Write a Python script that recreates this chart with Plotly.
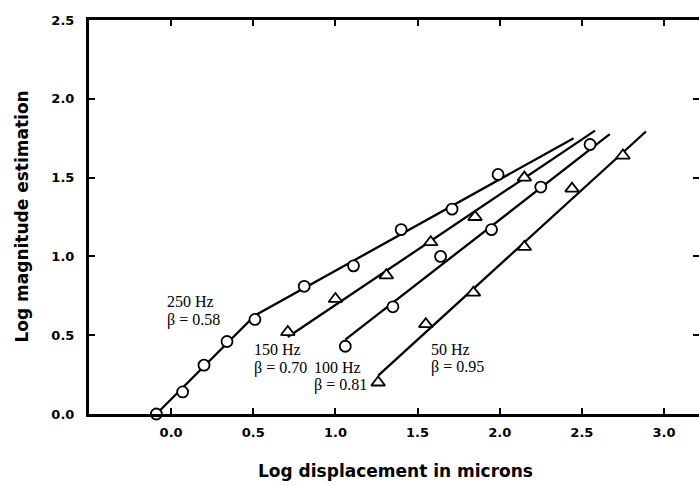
import plotly.graph_objects as go

# Log displacement (microns) and log magnitude estimation for each vibration frequency
x_250 = [-0.09, 0.07, 0.20, 0.34, 0.51, 0.81, 1.11, 1.40, 1.71, 1.99]
y_250 = [0.00, 0.14, 0.31, 0.46, 0.60, 0.81, 0.94, 1.17, 1.30, 1.52]

x_150 = [0.71, 1.00, 1.31, 1.58, 1.85, 2.15]
y_150 = [0.52, 0.73, 0.88, 1.09, 1.25, 1.50]

x_100 = [1.06, 1.35, 1.64, 1.95, 2.25, 2.55]
y_100 = [0.43, 0.68, 1.00, 1.17, 1.44, 1.71]

x_50 = [1.26, 1.55, 1.84, 2.15, 2.44, 2.75]
y_50 = [0.20, 0.57, 0.77, 1.06, 1.43, 1.64]

# Power-function fits: slope (beta), intercept and x extent of each fitted line
freqs = ["250 Hz", "150 Hz", "100 Hz", "50 Hz"]
betas = [0.58, 0.70, 0.81, 0.95]
intercepts = [0.329, -0.008, -0.387, -0.953]
fit_start = [0.51, 0.71, 1.06, 1.26]
fit_end = [2.45, 2.58, 2.67, 2.89]

# Steeper low-level segment of the 250 Hz function
low_slope_250 = 1.04
low_intercept_250 = 0.094
low_start_250 = -0.09

x_ticks = [0.0, 0.5, 1.0, 1.5, 2.0, 2.5, 3.0]
x_tick_text = ["0.0", "0.5", "1.0", "1.5", "2.0", "2.5", "3.0"]
y_ticks = [0.0, 0.5, 1.0, 1.5, 2.0, 2.5]
y_tick_text = ["0.0", "0.5", "1.0", "1.5", "2.0", "2.5"]

X_RANGE = [-0.5, 3.213]
Y_RANGE = [0.0, 2.5]

fig = go.Figure()


def fit_line(i):
    xs = [fit_start[i], fit_end[i]]
    ys = [intercepts[i] + betas[i] * v for v in xs]
    return xs, ys


# fitted lines
for i in range(len(freqs)):
    xs, ys = fit_line(i)
    if i == 0:
        xs = [low_start_250] + xs
        ys = [low_intercept_250 + low_slope_250 * low_start_250] + ys
    fig.add_trace(go.Scatter(
        x=xs, y=ys, mode="lines",
        line=dict(color="black", width=2.3),
        hoverinfo="skip", showlegend=False,
    ))

# data points
series = [
    (x_250, y_250, "circle"),
    (x_150, y_150, "triangle-up"),
    (x_100, y_100, "circle"),
    (x_50, y_50, "triangle-up"),
]
for (xs, ys, sym), name in zip(series, freqs):
    fig.add_trace(go.Scatter(
        x=xs, y=ys, mode="markers", name=name,
        marker=dict(symbol=sym, size=11 if sym == "circle" else 12,
                    color="white", line=dict(color="black", width=1.8)),
        cliponaxis=False, showlegend=False,
    ))

# invisible trace carrying the right-hand tick axis
fig.add_trace(go.Scatter(x=[None], y=[None], yaxis="y2", showlegend=False))

label_font = dict(family="Liberation Serif, Times New Roman, serif", size=16, color="black")
labels = [
    ("250 Hz", -0.035, 0.714), ("β = 0.58", -0.035, 0.598),
    ("150 Hz", 0.493, 0.408), ("β = 0.70", 0.493, 0.293),
    ("100 Hz", 0.858, 0.293), ("β = 0.81", 0.858, 0.187),
    ("50 Hz", 1.567, 0.408), ("β = 0.95", 1.567, 0.299),
]
for txt, lx, ly in labels:
    fig.add_annotation(x=lx, y=ly, xref="x", yref="y", text=txt, showarrow=False,
                       xanchor="left", yanchor="middle", font=label_font)

title_font = dict(family="DejaVu Sans, sans-serif", size=17, color="black", weight="bold")
fig.add_annotation(x=0.502, y=-0.145, xref="paper", yref="paper",
                   text="Log displacement in microns", showarrow=False,
                   xanchor="center", yanchor="middle", font=title_font)
fig.add_annotation(x=-0.1106, y=0.5, xref="paper", yref="paper",
                   text="Log magnitude estimation", showarrow=False, textangle=-90,
                   xanchor="center", yanchor="middle", font=title_font)

tick_font = dict(family="DejaVu Sans, sans-serif", size=13, color="black", weight="bold")

fig.update_layout(
    width=699, height=486,
    margin=dict(l=88.5, r=0, t=19.8, b=71.5),
    paper_bgcolor="white", plot_bgcolor="white",
    xaxis=dict(range=X_RANGE, tickvals=x_ticks, ticktext=x_tick_text,
               showgrid=False, zeroline=False, showline=True, linecolor="black",
               linewidth=3, mirror="ticks", ticks="inside", ticklen=6, tickwidth=1.5,
               tickcolor="black", tickfont=tick_font, ticklabelstandoff=4),
    yaxis=dict(range=Y_RANGE, tickvals=y_ticks, ticktext=y_tick_text,
               showgrid=False, zeroline=False, showline=True, linecolor="black",
               linewidth=3, ticks="inside", ticklen=6, tickwidth=1.5,
               tickcolor="black", tickfont=tick_font, ticklabelstandoff=9),
    yaxis2=dict(range=Y_RANGE, tickvals=y_ticks, overlaying="y", side="right",
                anchor="x", showline=False, showgrid=False, zeroline=False,
                ticks="inside", ticklen=6, tickwidth=1.5, tickcolor="black",
                showticklabels=False),
)

fig.write_html("out.html")
